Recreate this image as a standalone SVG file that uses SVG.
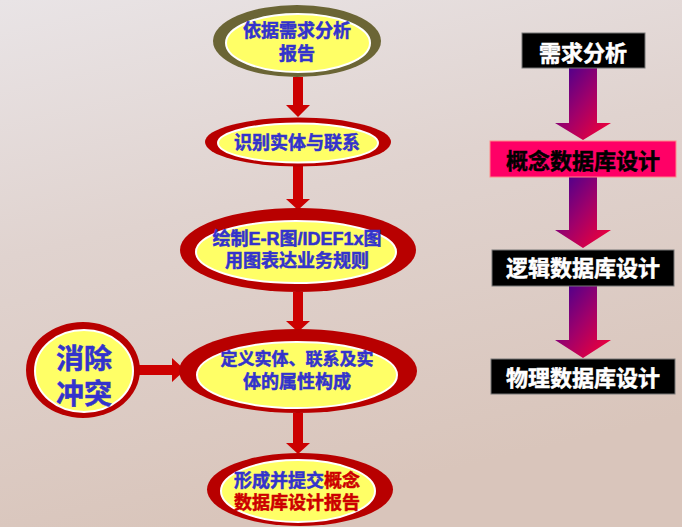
<svg xmlns="http://www.w3.org/2000/svg" width="682" height="527" viewBox="0 0 682 527">
<defs>
<linearGradient id="bg" x1="0" y1="0" x2="0.3" y2="1">
<stop offset="0" stop-color="#e9e4e6"/>
<stop offset="0.45" stop-color="#e0d3cf"/>
<stop offset="1" stop-color="#d9c5bb"/>
</linearGradient>
<linearGradient id="ga" x1="0" y1="0" x2="1" y2="1">
<stop offset="0" stop-color="#3a0095"/>
<stop offset="0.5" stop-color="#a0006a"/>
<stop offset="1" stop-color="#ff0030"/>
</linearGradient>
<style>
.t{font-family:"Liberation Sans","Noto Sans CJK SC",sans-serif;font-weight:bold;text-anchor:middle;stroke-width:0.5;paint-order:stroke}
.b{fill:#3333cc;stroke:#3333cc;font-size:18px}
.s17{font-size:17px}
.big{font-size:28px}
.r{fill:#cc0000;stroke:#cc0000}
.outer{fill:#b80000}
.inner{fill:#ffff66;stroke:#ffffff;stroke-width:2}
.ar{fill:#cc0000}
.w{fill:#ffffff;stroke:#ffffff;font-size:22px}
.k{fill:#000000;stroke:#000000;font-size:22px}
.bx{fill:#000000;stroke:#777777;stroke-width:1}
</style>
</defs>
<rect width="682" height="527" fill="url(#bg)"/>

<g id="connectors">
<polygon class="ar" points="293,77 303,77 303,105 310,105 298,117 286,105 293,105"/>
<polygon class="ar" points="293,166 303,166 303,199 310,199 298,210 286,199 293,199"/>
<polygon class="ar" points="293,292 303,292 303,321 310,321 298,332 286,321 293,321"/>
<polygon class="ar" points="293,413 303,413 303,443 310,443 298,454 286,443 293,443"/>
<polygon class="ar" points="139,365 172,365 172,358 185,370 172,382 172,375 139,375"/>
<polygon fill="url(#ga)" points="569,68 597,68 597,123 611,123 583,140 555,123 569,123"/>
<polygon fill="url(#ga)" points="569,177 597,177 597,230 611,230 583,248 555,230 569,230"/>
<polygon fill="url(#ga)" points="569,286 597,286 597,340 611,340 583,358 555,340 569,340"/>
</g>

<g id="n1">
<ellipse cx="297" cy="41" rx="84" ry="36" fill="#6b6535"/>
<ellipse cx="298" cy="43" rx="72" ry="29" class="inner"/>
<text class="t b" x="297" y="36.5">依据需求分析</text>
<text class="t b" x="297" y="59.5">报告</text>
</g>

<g id="n2">
<ellipse cx="298" cy="142" rx="93" ry="24.5" class="outer"/>
<ellipse cx="298" cy="143" rx="80" ry="19.5" class="inner"/>
<text class="t b" x="297" y="148.5">识别实体与联系</text>
</g>

<g id="n3">
<ellipse cx="298" cy="250" rx="118" ry="42" class="outer"/>
<ellipse cx="296" cy="252" rx="100" ry="31" class="inner"/>
<text class="t b" x="297" y="244.5">绘制E-R图/IDEF1x图</text>
<text class="t b" x="297" y="266.5">用图表达业务规则</text>
</g>

<g id="n4">
<ellipse cx="298" cy="371" rx="119" ry="42" class="outer"/>
<ellipse cx="297" cy="375" rx="100" ry="33" class="inner"/>
<text class="t b s17" x="297" y="365">定义实体、联系及实</text>
<text class="t b" x="297" y="388">体的属性构成</text>
</g>

<g id="n5">
<ellipse cx="300" cy="489.5" rx="93" ry="36.5" class="outer"/>
<ellipse cx="298" cy="491" rx="77" ry="31" class="inner"/>
<text class="t" x="297" y="486.5" style="font-size:18px"><tspan fill="#3333cc" stroke="#3333cc">形成并提交</tspan><tspan fill="#cc0000" stroke="#cc0000">概念</tspan></text>
<text class="t r" x="297" y="508.5" style="font-size:18px">数据库设计报告</text>
</g>

<g id="n6">
<ellipse cx="83" cy="370" rx="57" ry="48" class="outer"/>
<ellipse cx="84" cy="371" rx="49" ry="41" class="inner"/>
<text class="t b big" x="84" y="369">消除</text>
<text class="t b big" x="84" y="403.5">冲突</text>
</g>

<g id="s1">
<rect class="bx" x="522" y="33" width="123" height="35"/>
<text class="t w" x="583" y="60.5">需求分析</text>
</g>
<g id="s2">
<rect x="490" y="141" width="186" height="36" fill="#ff0066" stroke="#ff8888" stroke-width="1"/>
<text class="t k" x="583" y="169">概念数据库设计</text>
</g>
<g id="s3">
<rect class="bx" x="492" y="250" width="182" height="36"/>
<text class="t w" x="583" y="276">逻辑数据库设计</text>
</g>
<g id="s4">
<rect class="bx" x="491" y="359" width="184" height="35"/>
<text class="t w" x="583" y="386">物理数据库设计</text>
</g>
</svg>
